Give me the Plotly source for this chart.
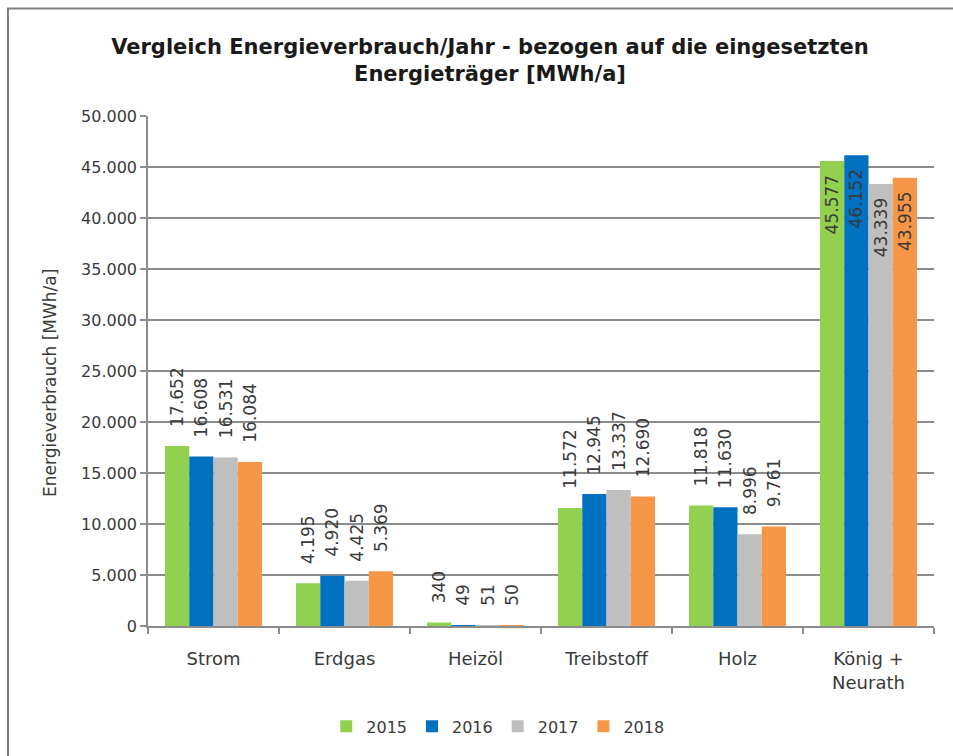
import plotly.graph_objects as go

categories = ["Strom", "Erdgas", "Heizöl", "Treibstoff", "Holz", "König +<br>Neurath"]
years = ["2015", "2016", "2017", "2018"]
v2015 = [17652, 4195, 340, 11572, 11818, 45577]
v2016 = [16608, 4920, 49, 12945, 11630, 46152]
v2017 = [16531, 4425, 51, 13337, 8996, 43339]
v2018 = [16084, 5369, 50, 12690, 9761, 43955]
colors = ["#92D050", "#0070C0", "#BFBFBF", "#F79646"]
y_ticks = [0, 5000, 10000, 15000, 20000, 25000, 30000, 35000, 40000, 45000, 50000]

font = "'DejaVu Sans', Roboto, sans-serif"
txt = "#3a3a3a"

fig = go.Figure()
for name, vals, col in zip(years, [v2015, v2016, v2017, v2018], colors):
    inside = [v > 40000 for v in vals]
    pos = ["inside" if i else "outside" for i in inside]
    tmpl = ["%{y:,}\u00a0\u00a0" if i else "\u00a0\u00a0\u00a0%{y:,}" for i in inside]
    fig.add_trace(go.Bar(
        name=name, x=categories, y=vals, marker_color=col,
        marker_line_width=0,
        texttemplate=tmpl, textposition=pos, textangle=-90,
        insidetextanchor="end",
        textfont=dict(size=17, color=txt, family=font),
        insidetextfont=dict(size=17, color=txt, family=font),
        outsidetextfont=dict(size=17, color=txt, family=font),
        cliponaxis=False,
    ))

fig.update_layout(
    width=953, height=756,
    paper_bgcolor="white", plot_bgcolor="white",
    separators=",.",
    barmode="group", bargap=0.26, bargroupgap=0,
    margin=dict(l=148, r=19, t=116, b=128),
    title=dict(
        text="<b>Vergleich Energieverbrauch/Jahr - bezogen auf die eingesetzten<br>Energieträger [MWh/a]</b>",
        x=490/953, xref="container", xanchor="center",
        y=1-54/756, yref="container", yanchor="middle",
        font=dict(size=21, color="#1a1a1a", family=font),
    ),
    font=dict(family=font, color=txt),
    legend=dict(orientation="h", x=0.445, xanchor="center", y=-0.197, yanchor="middle",
                font=dict(size=16, color=txt, family=font),
                itemwidth=30, traceorder="normal"),
    uniformtext=dict(mode="show", minsize=17),
)
fig.update_yaxes(
    range=[0, 50000], tickvals=y_ticks, tickformat=",d",
    showgrid=True, gridcolor="#8c8c8c", gridwidth=1.5,
    showline=True, linecolor="#8c8c8c", linewidth=1.5,
    ticks="outside", ticklen=6, tickcolor="#8c8c8c", tickwidth=1.5,
    tickfont=dict(size=16, color=txt),
    zeroline=False,
)
fig.update_xaxes(
    showline=True, linecolor="#8c8c8c", linewidth=1.5,
    ticks="outside", ticklen=6, tickcolor="#8c8c8c", tickwidth=1.5,
    tickson="boundaries", ticklabelstandoff=16,
    tickfont=dict(size=18, color=txt),
)
fig.add_annotation(
    text="Energieverbrauch [MWh/a]", textangle=-90, showarrow=False,
    xref="paper", yref="paper", x=(50-148)/786, y=(628-384)/512,
    xanchor="center", yanchor="middle",
    font=dict(size=17, color=txt, family=font),
)
fig.add_shape(type="rect", xref="paper", yref="paper",
              x0=(8-148)/786, x1=1.2, y0=-0.5, y1=(628-8)/512,
              line=dict(color="#808080", width=2), fillcolor="rgba(0,0,0,0)", layer="below")

fig.write_html("out.html", config={"displayModeBar": False},
               post_script="document.body.style.margin='0px';document.body.style.overflow='hidden';")
